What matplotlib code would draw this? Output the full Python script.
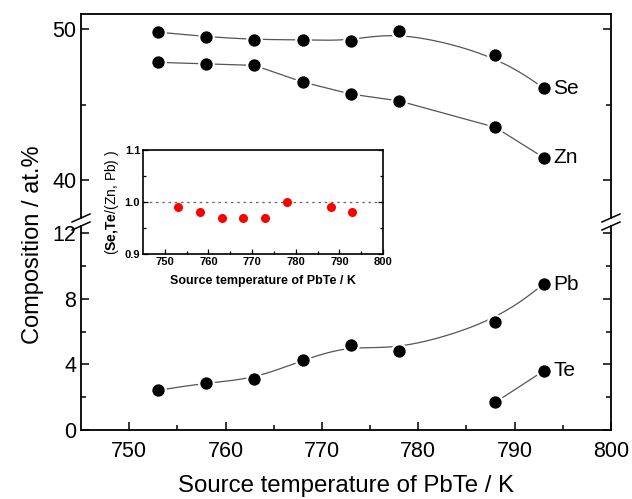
import numpy as np
import matplotlib
matplotlib.use("Agg")
import matplotlib.pyplot as plt
from matplotlib.lines import Line2D

plt.rcParams['font.family'] = ['Liberation Sans', 'DejaVu Sans']
plt.rcParams['mathtext.fontset'] = 'custom'
plt.rcParams['mathtext.rm'] = 'Liberation Sans'
plt.rcParams['mathtext.bf'] = 'Liberation Sans:bold'

# ---------- data ----------
temp = [753, 758, 763, 768, 773, 778, 788, 793]
se = [49.8, 49.5, 49.3, 49.3, 49.2, 49.9, 48.3, 46.1]
zn = [47.8, 47.7, 47.6, 46.5, 45.7, 45.25, 43.5, 41.5]
pb = [2.42, 2.88, 3.11, 4.27, 5.18, 4.84, 6.6, 8.9]
te_temp = [788, 793]
te = [1.69, 3.6]
ratio = [0.99, 0.98, 0.97, 0.97, 0.97, 1.00, 0.99, 0.98]


def bspline(xs, ys, n=40):
    """uniform cubic B-spline with clamped ends (like Origin's B-spline line)"""
    px = np.r_[[xs[0]] * 2, xs, [xs[-1]] * 2].astype(float)
    py = np.r_[[ys[0]] * 2, ys, [ys[-1]] * 2].astype(float)
    t = np.linspace(0, 1, n)
    b0 = (1 - t) ** 3 / 6
    b1 = (3 * t ** 3 - 6 * t ** 2 + 4) / 6
    b2 = (-3 * t ** 3 + 3 * t ** 2 + 3 * t + 1) / 6
    b3 = t ** 3 / 6
    cx, cy = [], []
    for i in range(len(px) - 3):
        cx.append(b0 * px[i] + b1 * px[i + 1] + b2 * px[i + 2] + b3 * px[i + 3])
        cy.append(b0 * py[i] + b1 * py[i + 1] + b2 * py[i + 2] + b3 * py[i + 3])
    return np.concatenate(cx), np.concatenate(cy)


W, H = 632, 499
fig = plt.figure(figsize=(W / 100, H / 100), dpi=100)

left, right = 81 / W, 611 / W
ax_top = fig.add_axes([left, 1 - 218 / H, right - left, (218 - 14) / H])
ax_bot = fig.add_axes([left, 1 - 430 / H, right - left, (430 - 226) / H])

line_kw = dict(color='#555555', lw=0.9, zorder=1)
mk_kw = dict(ls='none', marker='o', ms=10.5, mfc='black', mec='white', mew=1.6, zorder=3)

sx, sy = bspline(temp, se)
ax_top.plot(sx, sy, **line_kw)
ax_top.plot(temp, zn, **line_kw)
ax_top.plot(temp, se, **mk_kw)
ax_top.plot(temp, zn, **mk_kw)

px_, py_ = bspline(temp, pb)
ax_bot.plot(px_, py_, **line_kw)
ax_bot.plot(te_temp, te, **line_kw)
ax_bot.plot(temp, pb, **mk_kw)
ax_bot.plot(te_temp, te, **mk_kw)

lab_kw = dict(textcoords='offset points', fontsize=15, va='center', ha='left')
ax_top.annotate('Se', (temp[-1], se[-1]), xytext=(7, 0), **lab_kw)
ax_top.annotate('Zn', (temp[-1], zn[-1]), xytext=(7, 0), **lab_kw)
ax_bot.annotate('Pb', (temp[-1], pb[-1]), xytext=(7, 0), **lab_kw)
ax_bot.annotate('Te', (te_temp[-1], te[-1]), xytext=(7, 0), **lab_kw)

for ax in (ax_top, ax_bot):
    ax.set_xlim(745, 800)
    for s in ax.spines.values():
        s.set_linewidth(1.3)
    ax.tick_params(which='both', direction='in', right=True, width=1.1, labelsize=15.5)
    ax.tick_params(which='major', length=6)
    ax.tick_params(which='minor', length=3.5)

ax_top.set_ylim(37.5, 51)
ax_top.set_yticks([40, 50])
ax_top.set_yticks([45], minor=True)
ax_top.spines['bottom'].set_visible(False)
ax_top.tick_params(axis='x', which='both', bottom=False, labelbottom=False)

ax_bot.set_ylim(0, 12.44)
ax_bot.set_yticks([0, 4, 8, 12])
ax_bot.set_yticks([2, 6, 10], minor=True)
ax_bot.spines['top'].set_visible(False)
ax_bot.set_xticks(np.arange(750, 801, 10))
ax_bot.set_xticks(np.arange(755, 800, 10), minor=True)
ax_bot.tick_params(axis='x', which='both', right=False, pad=8)
ax_bot.tick_params(axis='y', which='both', right=True, labelright=False)

# axis break marks
for xp in (81, 611):
    for yp in (218, 226):
        fig.add_artist(Line2D([(xp - 9) / W, (xp + 9) / W],
                              [1 - (yp + 4) / H, 1 - (yp - 4) / H],
                              color='black', lw=1.1))

fig.text(33 / W, 1 - 245 / H, 'Composition / at.%', rotation=90,
         fontsize=17, ha='center', va='center')
fig.text(346 / W, 1 - 486 / H, 'Source temperature of PbTe / K',
         fontsize=17.3, ha='center', va='center')

# ---------- inset ----------
ax_in = fig.add_axes([143 / W, 1 - 254 / H, (383 - 143) / W, (254 - 150) / H])
ax_in.axhline(1.0, color='#666666', lw=0.9, ls=(0, (2, 3)), zorder=1)
ax_in.plot(temp, ratio, ls='none', marker='o', ms=5.5, color='red', mec='red', zorder=3)
ax_in.set_xlim(745, 800)
ax_in.set_ylim(0.9, 1.1)
ax_in.set_xticks(np.arange(750, 801, 10))
ax_in.set_xticks(np.arange(755, 800, 10), minor=True)
ax_in.set_yticks([0.9, 1.0, 1.1])
ax_in.set_yticks([0.95, 1.05], minor=True)
for s in ax_in.spines.values():
    s.set_linewidth(1.2)
ax_in.tick_params(which='both', direction='in', right=True, width=0.9, labelsize=8, pad=2)
ax_in.tick_params(which='major', length=3.5)
ax_in.tick_params(which='minor', length=2)
for lbl in ax_in.get_xticklabels() + ax_in.get_yticklabels():
    lbl.set_fontweight('bold')
ax_in.set_xlabel('Source temperature of PbTe / K', fontsize=9, fontweight='bold', labelpad=6)
ax_in.set_ylabel(r'($\mathbf{Se{,}Te}$/(Zn, Pb) )', fontsize=10, labelpad=3)

fig.savefig('out.png', dpi=100)
